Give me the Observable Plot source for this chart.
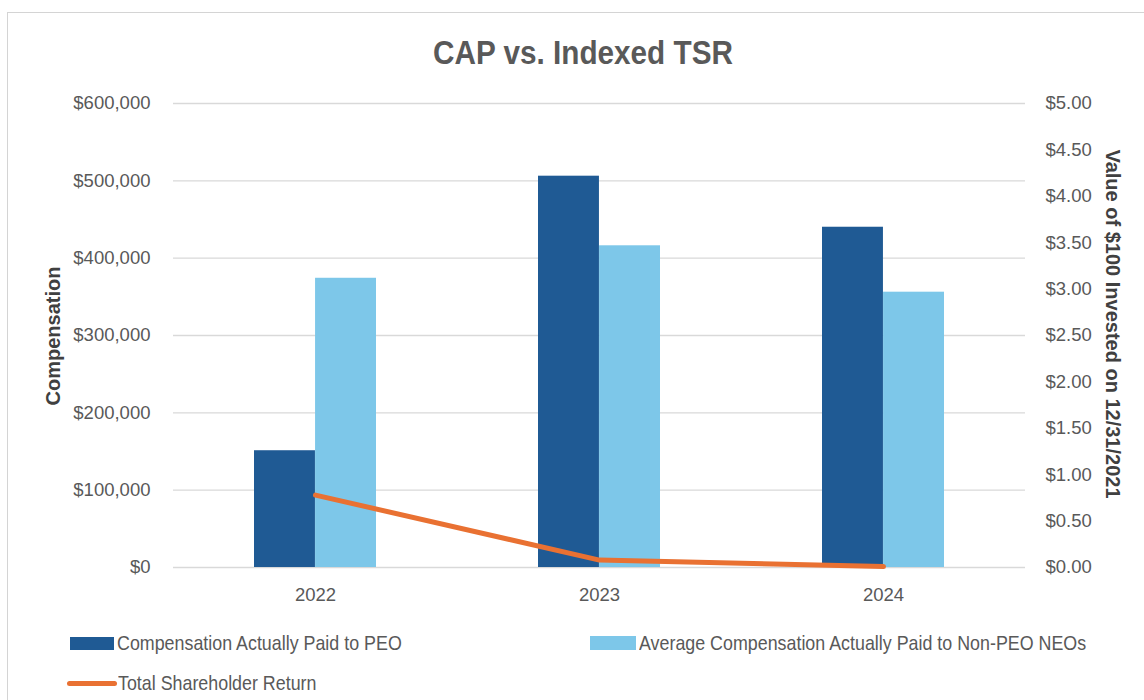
<!DOCTYPE html>
<html>
<head>
<meta charset="utf-8">
<script src="https://cdn.jsdelivr.net/npm/d3@7"></script>
<script src="https://cdn.jsdelivr.net/npm/@observablehq/plot@0.6"></script>
<style>
  html, body { margin: 0; padding: 0; background: #fff; width: 1144px; height: 700px; overflow: hidden; }
  #frame { position: absolute; left: 7px; top: 12px; width: 1200px; height: 760px; border-left: 1.5px solid #d4d4d4; border-top: 1.5px solid #d4d4d4; }
  #title { position: absolute; left: 583px; top: 31px; transform: translateX(-50%) scaleX(0.9); white-space: nowrap;
           font-family: "Liberation Sans", Arial, sans-serif;
           font-weight: bold; font-size: 33px; color: #595959; line-height: 44px; }
  #chart { position: absolute; left: 0; top: 80px; }
  .ytitle { position: absolute; white-space: nowrap; font-family: "Liberation Sans", Arial, sans-serif; font-weight: bold;
            font-size: 20px; color: #404040; line-height: 20px; }
  #ylTitle { left: 53px; top: 336px; transform: translate(-50%, -50%) rotate(-90deg); }
  #yrTitle { left: 1113px; top: 324px; transform: translate(-50%, -50%) rotate(90deg); }
  .leg { position: absolute; display: flex; align-items: center; height: 24px; white-space: nowrap;
         font-family: "Liberation Sans", Arial, sans-serif;
         font-size: 21px; color: #595959; }
  .leg .txt { display: inline-block; transform: scaleX(0.85); transform-origin: left center; }
  .sw { display: inline-block; margin-right: 3px; }
</style>
</head>
<body>
<div id="frame"></div>
<div id="title">CAP vs. Indexed TSR</div>
<div id="chart"></div>
<div class="ytitle" id="ylTitle">Compensation</div>
<div class="ytitle" id="yrTitle">Value of $100 Invested on 12/31/2021</div>
<div id="legend"></div>
<script>
// ---- data ----
const years = ["2022", "2023", "2024"];
const peoCAP = [151000, 506000, 440000];           // Compensation Actually Paid to PEO
const neoCAP = [374000, 416000, 356000];           // Average CAP to Non-PEO NEOs
const tsrValues = [0.78, 0.08, 0.01];              // Value of $100 invested (hundreds)
const leftTicks = [0, 100000, 200000, 300000, 400000, 500000, 600000];
const rightTicks = [0, 0.5, 1, 1.5, 2, 2.5, 3, 3.5, 4, 4.5, 5];
const seriesNames = ["Compensation Actually Paid to PEO", "Average Compensation Actually Paid to Non-PEO NEOs", "Total Shareholder Return"];

const colors = { peo: "#1F5A94", neo: "#7DC7E9", tsr: "#E97132" };
const tsrScale = 600000 / 5; // right axis $5.00 aligns with $600,000

const rows = years.map((y, i) => ({ year: y, peo: peoCAP[i], neo: neoCAP[i], tsr: tsrValues[i] * tsrScale }));

const W = 1144, mL = 173, mR = 119;
const padIn = 0.57, padOut = 0.285;
const step = (W - mL - mR) / years.length;
const bw = step * (1 - padIn);

const chart = Plot.plot({
  width: W,
  height: 530,
  marginTop: 23,
  marginBottom: 43,
  marginLeft: mL,
  marginRight: mR,
  style: { fontFamily: "'Liberation Sans', Arial, sans-serif", fontSize: "18.5px", color: "#595959", background: "transparent" },
  x: { domain: years, paddingInner: padIn, paddingOuter: padOut, axis: null },
  y: { domain: [0, 600000], axis: null },
  marks: [
    Plot.gridY(leftTicks, { stroke: "#d9d9d9", strokeOpacity: 1, strokeWidth: 1.3 }),
    Plot.axisY(leftTicks, { anchor: "left", tickSize: 0, tickPadding: 23, label: null,
      tickFormat: d => "$" + d3.format(",")(d) }),
    Plot.axisY(rightTicks.map(v => v * tsrScale), { anchor: "right", tickSize: 0, tickPadding: 20, label: null,
      tickFormat: d => "$" + (d / tsrScale).toFixed(2) }),
    Plot.axisX({ tickSize: 0, tickPadding: 20, label: null }),
    Plot.barY(rows, { x: "year", y: "peo", fill: colors.peo, insetRight: bw / 2 }),
    Plot.barY(rows, { x: "year", y: "neo", fill: colors.neo, insetLeft: bw / 2 }),
    Plot.lineY(rows, { x: "year", y: "tsr", stroke: colors.tsr, strokeWidth: 5, strokeLinecap: "round", strokeLinejoin: "round" })
  ]
});
document.getElementById("chart").appendChild(chart);

// ---- legend ----
const legend = document.getElementById("legend");
const items = [
  { name: seriesNames[0], color: colors.peo, left: 70, top: 631, w: 44, h: 13, line: false },
  { name: seriesNames[1], color: colors.neo, left: 590, top: 631, w: 46, h: 14, line: false },
  { name: seriesNames[2], color: colors.tsr, left: 67, top: 671, w: 50, h: 5, line: true }
];
items.forEach(it => {
  const d = document.createElement("div");
  d.className = "leg";
  d.style.left = it.left + "px";
  d.style.top = it.top + "px";
  const s = document.createElement("span");
  s.className = "sw";
  s.style.width = it.w + "px";
  s.style.height = it.h + "px";
  s.style.background = it.color;
  if (it.line) { s.style.borderRadius = "3px"; s.style.marginRight = "1px"; }
  d.appendChild(s);
  const t = document.createElement("span");
  t.className = "txt";
  t.textContent = it.name;
  d.appendChild(t);
  legend.appendChild(d);
});
</script>
</body>
</html>
